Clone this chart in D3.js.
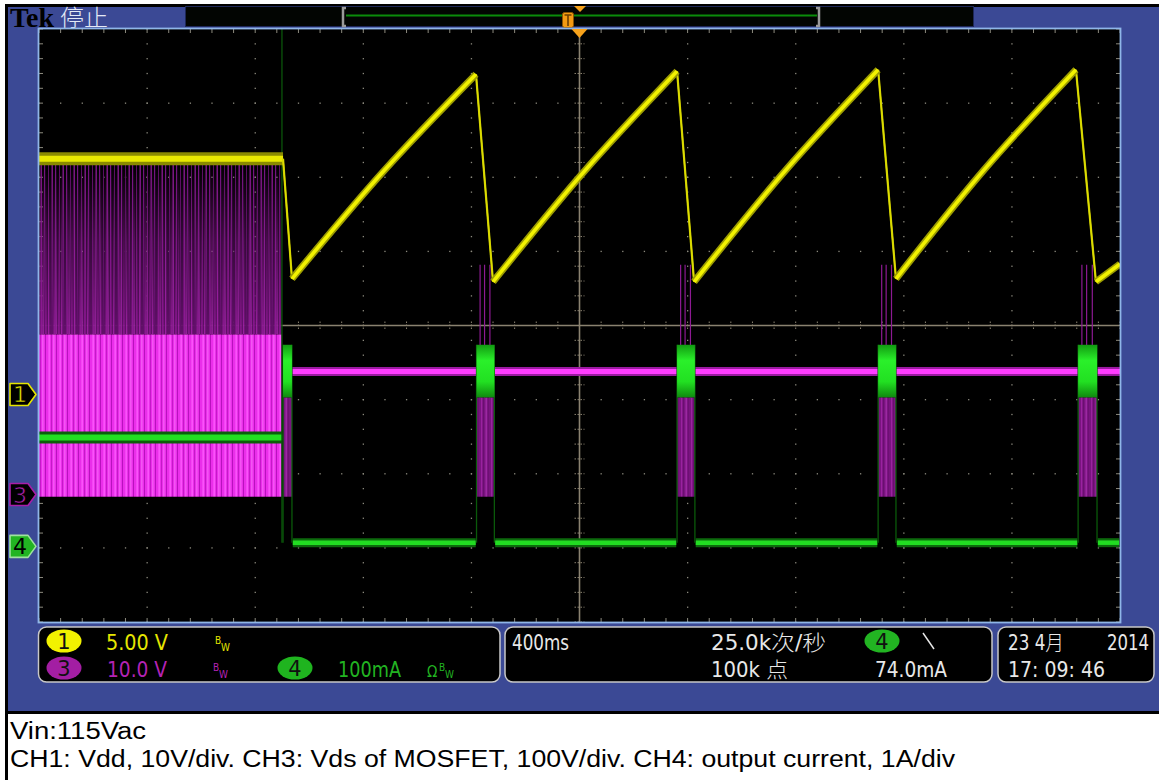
<!DOCTYPE html>
<html>
<head>
<meta charset="utf-8">
<script src="https://cdn.jsdelivr.net/npm/d3@7"></script>
<style>
  body { margin: 0; background: #fff; }
  svg { display: block; }
  .scope { font-family: "Liberation Sans Narrow", "DejaVu Sans Condensed", "Noto Sans CJK SC", sans-serif; }
  .cjk { font-family: "DejaVu Sans Condensed", "Noto Sans CJK SC", sans-serif; }
</style>
</head>
<body>
<svg id="chart" width="1159" height="780"></svg>
<script>
// scope settings
const timePerDiv = 400;                 // ms/div
const ch1Scale = 5, ch3Scale = 10, ch4Scale = 100;   // V/div, V/div, mA/div
const ch1Pos = -0.93, ch3Pos = -2.28, ch4Pos = -2.98; // ground markers, divisions

// CH1 (Vdd): flat level before the fault, then the hiccup ramps [low, mid, peak] in ms / V
const ch1Flat = [[-2000, 15.9], [-1097, 15.9]];
const ch1Ramps = [
  [[-1064, 7.8], [-723, 15.1], [-383, 21.6]],
  [[-320, 7.6], [20, 15.1], [361, 21.8]],
  [[424, 7.6], [764, 15.15], [1105, 21.9]],
  [[1171, 7.8], [1504, 15.3], [1837, 21.9]],
  [[1911, 7.6], [2000, 8.8]]
];

// burst windows (ms) shared by CH3 / CH4
const burstStart = [-1097, -381, 361, 1105, 1845];
const burstEnd = [-1064, -315, 427, 1171, 1915];

// CH3 (Vds) levels, V
const ch3SwitchTop = 44.5;   // spike envelope before the fault
const ch3SwitchMid = 21.6;
const ch3SwitchLow = -0.3;
const ch3Flat = 16.6;
const ch3BurstHigh = 13.1, ch3BurstLow = -0.3, ch3BurstSpike = 31;

// CH4 (output current) levels, mA
const ch4Pre = 147, ch4Post = 5;
const ch4BurstHigh = 272, ch4BurstLow = 201;

// readouts
const chanMarkers = [["1", ch1Pos], ["3", ch3Pos], ["4", ch4Pos]];
const caption = ["Vin:115Vac", "CH1: Vdd, 10V/div. CH3: Vds of MOSFET, 100V/div. CH4: output current, 1A/div"];

const W = 1159, H = 780;
const scr = { left: 39, top: 29, right: 1120, bottom: 622 };

const svg = d3.select("#chart");
const defs = svg.append("defs");

const x = d3.scaleLinear().domain([-5 * timePerDiv, 5 * timePerDiv]).range([scr.left, scr.right]);
const yDiv = d3.scaleLinear().domain([-4, 4]).range([scr.bottom, scr.top]);
const chanScale = (pos, k) => d3.scaleLinear().domain([(-4 - pos) * k, (4 - pos) * k]).range([scr.bottom, scr.top]);
const y1 = chanScale(ch1Pos, ch1Scale);
const y3 = chanScale(ch3Pos, ch3Scale);
const y4 = chanScale(ch4Pos, ch4Scale);

// ---------- frame ----------
svg.append("rect").attr("width", W).attr("height", H).attr("fill", "#fff");
svg.append("rect").attr("x", 6.5).attr("y", 5.5).attr("width", W).attr("height", 707)
  .attr("fill", "#3b4995").attr("stroke", "#000").attr("stroke-width", 3);
svg.append("line").attr("x1", 6.5).attr("x2", 6.5).attr("y1", 712).attr("y2", H)
  .attr("stroke", "#000").attr("stroke-width", 3);

// ---------- top bar ----------
svg.append("text").attr("x", 10).attr("y", 27).text("Tek")
  .attr("font-family", "Liberation Serif, serif").attr("font-weight", "bold")
  .attr("font-size", 28).attr("fill", "#000").attr("textLength", 44).attr("lengthAdjust", "spacingAndGlyphs");
svg.append("text").attr("x", 60).attr("y", 26).text("停止").attr("class", "cjk")
  .attr("font-size", 23).attr("fill", "#e4e9f6").attr("font-weight", 300)
  .attr("textLength", 48).attr("lengthAdjust", "spacingAndGlyphs");

svg.append("rect").attr("x", 185.5).attr("y", 6.5).attr("width", 788).attr("height", 20)
  .attr("fill", "#020502").attr("stroke", "#1e2858").attr("stroke-width", 1);
svg.append("line").attr("x1", 346).attr("x2", 817).attr("y1", 15.5).attr("y2", 15.5)
  .attr("stroke", "#0a8c0a").attr("stroke-width", 2);
[[343, 1], [819, -1]].forEach(([bx, dir]) => {
  svg.append("path").attr("d", `M${bx + 3 * dir},8 H${bx} V26 H${bx + 3 * dir}`)
    .attr("fill", "none").attr("stroke", "#9a9a9a").attr("stroke-width", 2.5);
});
svg.append("path").attr("d", "M574,6 L586,6 L580,12 Z").attr("fill", "#f7a21b");
svg.append("rect").attr("x", 562.5).attr("y", 12.5).attr("width", 11).attr("height", 15).attr("rx", 2)
  .attr("fill", "#f39a12").attr("stroke", "#8a5200").attr("stroke-width", 1);
svg.append("path").attr("d", "M564.5,15 H571.5 M568,15 V26").attr("stroke", "#6b3e00").attr("stroke-width", 1.6);

// ---------- screen ----------
svg.append("rect").attr("x", scr.left).attr("y", scr.top)
  .attr("width", scr.right - scr.left).attr("height", scr.bottom - scr.top).attr("fill", "#000");

defs.append("clipPath").attr("id", "scr").append("rect")
  .attr("x", scr.left).attr("y", scr.top).attr("width", scr.right - scr.left).attr("height", scr.bottom - scr.top);

const grid = svg.append("g");
const sub = d3.range(-25, 26).map(i => i / 5 * timePerDiv);   // time ticks (ms)
const subV = d3.range(-20, 21).map(i => i / 5);               // vertical ticks (div)
const dotCol = "#8c8a7e";

// dotted verticals
d3.range(-4, 5).filter(i => i !== 0).forEach(i => {
  grid.selectAll(null).data(subV).join("rect")
    .attr("x", x(i * timePerDiv) - 0.6).attr("y", d => yDiv(d) - 0.6)
    .attr("width", 1.3).attr("height", 1.3).attr("fill", dotCol);
});
// dotted horizontals
d3.range(-3, 4).filter(j => j !== 0).forEach(j => {
  grid.selectAll(null).data(sub).join("rect")
    .attr("x", d => x(d) - 0.6).attr("y", yDiv(j) - 0.6)
    .attr("width", 1.3).attr("height", 1.3).attr("fill", dotCol);
});
// edge ticks
grid.selectAll(null).data(sub).join("path")
  .attr("d", d => `M${x(d)},${scr.top} v4 M${x(d)},${scr.bottom} v-4`)
  .attr("stroke", dotCol).attr("stroke-width", 1);
grid.selectAll(null).data(subV).join("path")
  .attr("d", d => `M${scr.left},${yDiv(d)} h4 M${scr.right},${yDiv(d)} h-4`)
  .attr("stroke", dotCol).attr("stroke-width", 1);
// centre cross with ticks
const axisCol = "#8a8270";
grid.append("line").attr("x1", scr.left).attr("x2", scr.right).attr("y1", yDiv(0)).attr("y2", yDiv(0))
  .attr("stroke", axisCol).attr("stroke-width", 1.6);
grid.append("line").attr("x1", x(0)).attr("x2", x(0)).attr("y1", scr.top).attr("y2", scr.bottom)
  .attr("stroke", axisCol).attr("stroke-width", 1.6);
grid.selectAll(null).data(sub).join("line")
  .attr("x1", d => x(d)).attr("x2", d => x(d)).attr("y1", yDiv(0) - 4).attr("y2", yDiv(0) + 4)
  .attr("stroke", axisCol).attr("stroke-width", 1).attr("stroke-dasharray", "1.5,1.5");
grid.selectAll(null).data(subV).join("line")
  .attr("x1", x(0) - 5).attr("x2", x(0) + 5).attr("y1", d => yDiv(d)).attr("y2", d => yDiv(d))
  .attr("stroke", axisCol).attr("stroke-width", 1).attr("stroke-dasharray", "1.5,1.5");

// ---------- patterns for switching spikes ----------
function stripes(id, bg, lines, w = 11) {
  const p = defs.append("pattern").attr("id", id).attr("patternUnits", "userSpaceOnUse")
    .attr("width", w).attr("height", 40);
  if (bg) p.append("rect").attr("width", w).attr("height", 40).attr("fill", bg);
  lines.forEach(([lx, lw, c]) => p.append("rect").attr("x", lx).attr("width", lw).attr("height", 40).attr("fill", c));
}
stripes("swSparse", null, [[0, 1.2, "#741480"], [4, 1, "#5a0e62"], [7.5, 1.4, "#84188c"]]);
stripes("swDense", "#62106a", [[1.5, 1.6, "#8d1993"], [3.5, 1.2, "#a626ac"], [6, 1.8, "#86168c"], [9, 1.3, "#9a20a0"]], 13);
stripes("swBright", "#ea2eea", [[1, 1, "#b812be"], [4.5, 1.3, "#ff5cff"], [7, 1, "#c41ac8"], [9.5, 0.8, "#ff7aff"]]);
stripes("swBurst", "#7a1480", [[1, 1.2, "#9a22a0"], [3, 1, "#6a0e70"], [5.5, 1.4, "#a02aa6"], [8, 1, "#6e1074"]], 10);

// fade for the dense spike layer (thin at the top of the envelope)
const fade = defs.append("linearGradient").attr("id", "fadeG").attr("x1", 0).attr("x2", 0).attr("y1", 0).attr("y2", 1);
fade.append("stop").attr("offset", "0%").attr("stop-color", "#fff").attr("stop-opacity", 0);
fade.append("stop").attr("offset", "45%").attr("stop-color", "#fff").attr("stop-opacity", 0.55);
fade.append("stop").attr("offset", "100%").attr("stop-color", "#fff").attr("stop-opacity", 1);
defs.append("mask").attr("id", "fadeM").attr("maskContentUnits", "objectBoundingBox")
  .append("rect").attr("width", 1).attr("height", 1).attr("fill", "url(#fadeG)");

// ---------- traces ----------
const tr = svg.append("g").attr("clip-path", "url(#scr)");
const line = d3.line().x(d => x(d[0])).y(d => d[1]);

function band(pts, wOuter, cOuter, wInner, cInner, gen = line) {
  tr.append("path").attr("d", gen(pts)).attr("fill", "none")
    .attr("stroke", cOuter).attr("stroke-width", wOuter).attr("stroke-linecap", "butt");
  tr.append("path").attr("d", gen(pts)).attr("fill", "none")
    .attr("stroke", cInner).attr("stroke-width", wInner).attr("stroke-linecap", "butt");
}

// CH3 switching before the fault
const swEnd = burstStart[0] - 5;
const swRect = (top, bottom, fill) => tr.append("rect")
  .attr("x", x(-2000)).attr("width", x(swEnd) - x(-2000))
  .attr("y", top).attr("height", bottom - top).attr("fill", fill);
swRect(y3(ch3SwitchTop), y3(ch3SwitchMid), "url(#swSparse)");
swRect(y3(ch3SwitchTop), y3(ch3SwitchMid), "url(#swDense)").attr("mask", "url(#fadeM)");
swRect(y3(ch3SwitchMid), y3(ch3SwitchLow), "url(#swBright)");

// CH3 flat + bursts
const postSegs = burstEnd.map((e, i) => [e, i + 1 < burstStart.length ? burstStart[i + 1] : 2000]);
postSegs.forEach(([a, b]) => band([[a, y3(ch3Flat)], [b, y3(ch3Flat)]], 9, "#9a1aa0", 5, "#ff3cff"));
burstStart.forEach((s, i) => {
  const e = burstEnd[i];
  tr.append("rect").attr("x", x(s)).attr("width", x(e) - x(s))
    .attr("y", y3(ch3BurstHigh)).attr("height", y3(ch3BurstLow) - y3(ch3BurstHigh))
    .attr("fill", "url(#swBurst)");
  if (i > 0) {
    [0.2, 0.45, 0.75].forEach(f => {
      const t = s + (e - s) * f;
      tr.append("line").attr("x1", x(t)).attr("x2", x(t))
        .attr("y1", y3(ch3BurstSpike)).attr("y2", y3(ch3BurstHigh))
        .attr("stroke", "#8d1a93").attr("stroke-width", 1.2);
    });
  }
});

// CH4
band([[-2000, y4(ch4Pre)], [burstStart[0] - 3, y4(ch4Pre)]], 12, "#0c5e0c", 6, "#22e022");
postSegs.forEach(([a, b]) => band([[a + 3, y4(ch4Post)], [b - 3, y4(ch4Post)]], 9, "#0c6a0c", 4.5, "#22dc22"));
burstStart.forEach((s, i) => {
  const e = burstEnd[i];
  [s, e].forEach(t => tr.append("line").attr("x1", x(t)).attr("x2", x(t))
    .attr("y1", y4(ch4BurstHigh)).attr("y2", y4(ch4Post))
    .attr("stroke", "#0a5a0a").attr("stroke-width", 1.3));
  const gid = "gb" + i;
  const lg = defs.append("linearGradient").attr("id", gid).attr("x1", 0).attr("x2", 0).attr("y1", 0).attr("y2", 1);
  lg.append("stop").attr("offset", "0%").attr("stop-color", "#129a12");
  lg.append("stop").attr("offset", "30%").attr("stop-color", "#2af02a");
  lg.append("stop").attr("offset", "70%").attr("stop-color", "#22e022");
  lg.append("stop").attr("offset", "100%").attr("stop-color", "#0f8a0f");
  tr.append("rect").attr("x", x(s)).attr("width", x(e) - x(s))
    .attr("y", y4(ch4BurstHigh)).attr("height", y4(ch4BurstLow) - y4(ch4BurstHigh))
    .attr("fill", `url(#${gid})`);
});
// current spike at the fault edge (clipped at the top)
tr.append("line").attr("x1", x(burstStart[0] - 4)).attr("x2", x(burstStart[0] - 4))
  .attr("y1", scr.top).attr("y2", y4(ch4Post))
  .attr("stroke", "#0b550b").attr("stroke-width", 1.3);

// CH1
const ch1Line = d3.line().x(d => x(d[0])).y(d => y1(d[1]));
const ch1Curve = d3.line().x(d => x(d[0])).y(d => y1(d[1])).curve(d3.curveCatmullRom);
// flat level and the fast falls
band(ch1Flat, 13, "#8a8a00", 6, "#e8e800", ch1Line);
const falls = [[ch1Flat[1], ch1Ramps[0][0]]].concat(
  d3.pairs(ch1Ramps).map(([a, b]) => [a[a.length - 1], b[0]]));
falls.forEach(f => band(f, 2.2, "#c9c900", 1.4, "#dede00", ch1Line));
ch1Ramps.forEach(r => band(r, 7, "#9c9c00", 3.6, "#f2f200", ch1Curve));

// screen border
svg.append("rect").attr("x", scr.left - 0.5).attr("y", scr.top - 0.5)
  .attr("width", scr.right - scr.left + 1).attr("height", scr.bottom - scr.top + 1)
  .attr("fill", "none").attr("stroke", "#8fb6e8").attr("stroke-width", 1.8);

// trigger position marker
svg.append("path").attr("d", `M${x(0) - 8},${scr.top} L${x(0) + 8},${scr.top} L${x(0)},${scr.top + 9} Z`)
  .attr("fill", "#f7a21b");

// ---------- channel markers ----------
const markCol = { "1": ["#000", "#e6e600", "#e6e600"], "3": ["#000", "#a81ea8", "#b020b0"], "4": ["#22b422", "#9fe09f", "#000"] };
chanMarkers.forEach(([ch, pos]) => {
  const cy = yDiv(pos), [fill, stroke, txt] = markCol[ch];
  svg.append("path")
    .attr("d", `M10,${cy - 11} L28,${cy - 11} L36,${cy} L28,${cy + 11} L10,${cy + 11} Z`)
    .attr("fill", fill).attr("stroke", stroke).attr("stroke-width", 1.6).attr("stroke-linejoin", "round");
  svg.append("text").attr("x", 20).attr("y", cy + 8).text(ch)
    .attr("text-anchor", "middle").attr("font-family", "DejaVu Sans, sans-serif")
    .attr("font-size", 22).attr("fill", txt)
    .attr("stroke", ch === "4" ? "none" : "#000").attr("stroke-width", 0.6);
});

// ---------- readout panel ----------
const panel = svg.append("g").attr("class", "scope");
[[38.5, 461.5], [505, 487], [998, 156]].forEach(([bx, bw]) => {
  panel.append("rect").attr("x", bx).attr("y", 627).attr("width", bw).attr("height", 55).attr("rx", 8)
    .attr("fill", "#000").attr("stroke", "#c8c8c8").attr("stroke-width", 1.5);
});

function badge(cx, cy, fill, label) {
  panel.append("ellipse").attr("cx", cx).attr("cy", cy).attr("rx", 17.5).attr("ry", 11.5).attr("fill", fill);
  panel.append("text").attr("x", cx).attr("y", cy + 7.5).text(label).attr("text-anchor", "middle")
    .attr("font-family", "DejaVu Sans, sans-serif").attr("font-size", 21).attr("fill", "#111");
}
function label(tx, ty, str, col, len, size = 21) {
  const t = panel.append("text").attr("x", tx).attr("y", ty).text(str)
    .attr("font-size", size).attr("fill", col).attr("font-weight", 300);
  if (len) t.attr("textLength", len).attr("lengthAdjust", "spacingAndGlyphs");
  return t;
}
function bw(tx, ty, col) {
  label(tx, ty - 6, "B", col, null, 10);
  label(tx + 6, ty + 1, "W", col, null, 10);
}
const yel = "#e6e600", mag = "#b423b4", grn = "#22b422", wht = "#e8e8e8";
const r1 = 650, r2 = 677;
badge(64, 641, "#f2f200", "1");
label(106, r1, "5.00 V", yel, 62);
bw(215, r1, yel);
badge(64, 668, "#a31ea3", "3");
label(107, r2, "10.0 V", mag, 60);
bw(213, r2, mag);
badge(295, 668, "#1fb41f", "4");
label(338, r2, "100mA", grn, 63);
label(427, r2, "Ω", grn, null, 15);
bw(439, r2, grn);

label(512, r1, "400ms", wht, 57);
label(711, r1, "25.0k次/秒", wht, 115).attr("class", "cjk");
badge(882, 641, "#22b422", "4");
panel.append("line").attr("x1", 923).attr("y1", 633).attr("x2", 934).attr("y2", 649)
  .attr("stroke", wht).attr("stroke-width", 1.5);
label(711, r2, "100k 点", wht, 77).attr("class", "cjk");
label(875, r2, "74.0mA", wht, 72);
label(1008, r1, "23 4月", wht, 56).attr("class", "cjk");
label(1107, r1, "2014", wht, 42);
label(1008, r2, "17: 09: 46", wht, 97);

// ---------- caption ----------
svg.selectAll(".cap").data(caption).join("text").attr("class", "cap")
  .attr("x", 10).attr("y", (d, i) => 739 + i * 28).text(d => d)
  .attr("font-family", "Liberation Sans, Arial, sans-serif").attr("font-size", 23).attr("fill", "#000")
  .attr("textLength", (d, i) => i === 0 ? 136 : 945).attr("lengthAdjust", "spacingAndGlyphs");
</script>
</body>
</html>
